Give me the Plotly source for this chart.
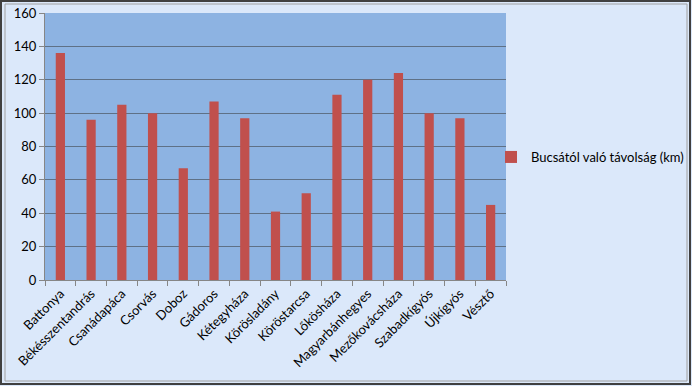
import plotly.graph_objects as go

categories = ["Battonya", "Békésszentandrás", "Csanádapáca", "Csorvás", "Doboz", "Gádoros",
              "Kétegyháza", "Körösladány", "Köröstarcsa", "Lőkösháza", "Magyarbánhegyes",
              "Mezőkovácsháza", "Szabadkígyós", "Újkígyós", "Vésztő"]
values = [136, 96, 105, 100, 67, 107, 97, 41, 52, 111, 120, 124, 100, 97, 45]
series_name = "Bucsától való távolság (km)"
y_ticks = [0, 20, 40, 60, 80, 100, 120, 140, 160]

W, H = 692, 386
ml, mr, mt, mb = 45, 186, 13, 106
pw, ph = W - ml - mr, H - mt - mb

fig = go.Figure()
fig.add_trace(go.Bar(x=categories, y=values, name=series_name,
                     marker=dict(color="#c0504d", line=dict(width=0)),
                     showlegend=True))

font = dict(family="Lato, Open Sans, sans-serif", size=13, color="#000000")

def px_x(p):
    return (p - ml) / pw

def px_y(p):
    return 1 - (p - mt) / ph

fig.update_layout(
    width=W, height=H,
    margin=dict(l=ml, r=mr, t=mt, b=mb, autoexpand=False),
    paper_bgcolor="#dbe8fa",
    plot_bgcolor="#8db3e2",
    font=font,
    bargap=0.7,
    showlegend=True,
    legend=dict(x=px_x(491), y=px_y(157), xanchor="left", yanchor="middle",
                bgcolor="rgba(0,0,0,0)", font=dict(size=13), itemwidth=30,
                tracegroupgap=0),
    xaxis=dict(type="category", tickangle=-45, ticks="outside", tickson="boundaries",
               ticklen=5, tickcolor="#868686", showline=True, linecolor="#868686",
               showgrid=False, tickfont=dict(size=13), automargin=False),
    yaxis=dict(range=[0, 160], tickvals=y_ticks, ticks="outside", ticklen=5,
               tickcolor="#868686", showline=True, linecolor="#868686",
               gridcolor="#5f7186", gridwidth=1, zeroline=False, tickfont=dict(size=13),
               automargin=False),
    shapes=[
        dict(type="rect", xref="paper", yref="paper",
             x0=px_x(1), x1=px_x(690), y0=px_y(384), y1=px_y(1),
             line=dict(color="#404040", width=2), fillcolor="rgba(0,0,0,0)", layer="above"),
        dict(type="rect", xref="paper", yref="paper",
             x0=px_x(5), x1=px_x(687), y0=px_y(381), y1=px_y(4),
             line=dict(color="#a0a0a0", width=1), fillcolor="rgba(0,0,0,0)", layer="below"),
    ],
)

fig.write_html("out.html")
